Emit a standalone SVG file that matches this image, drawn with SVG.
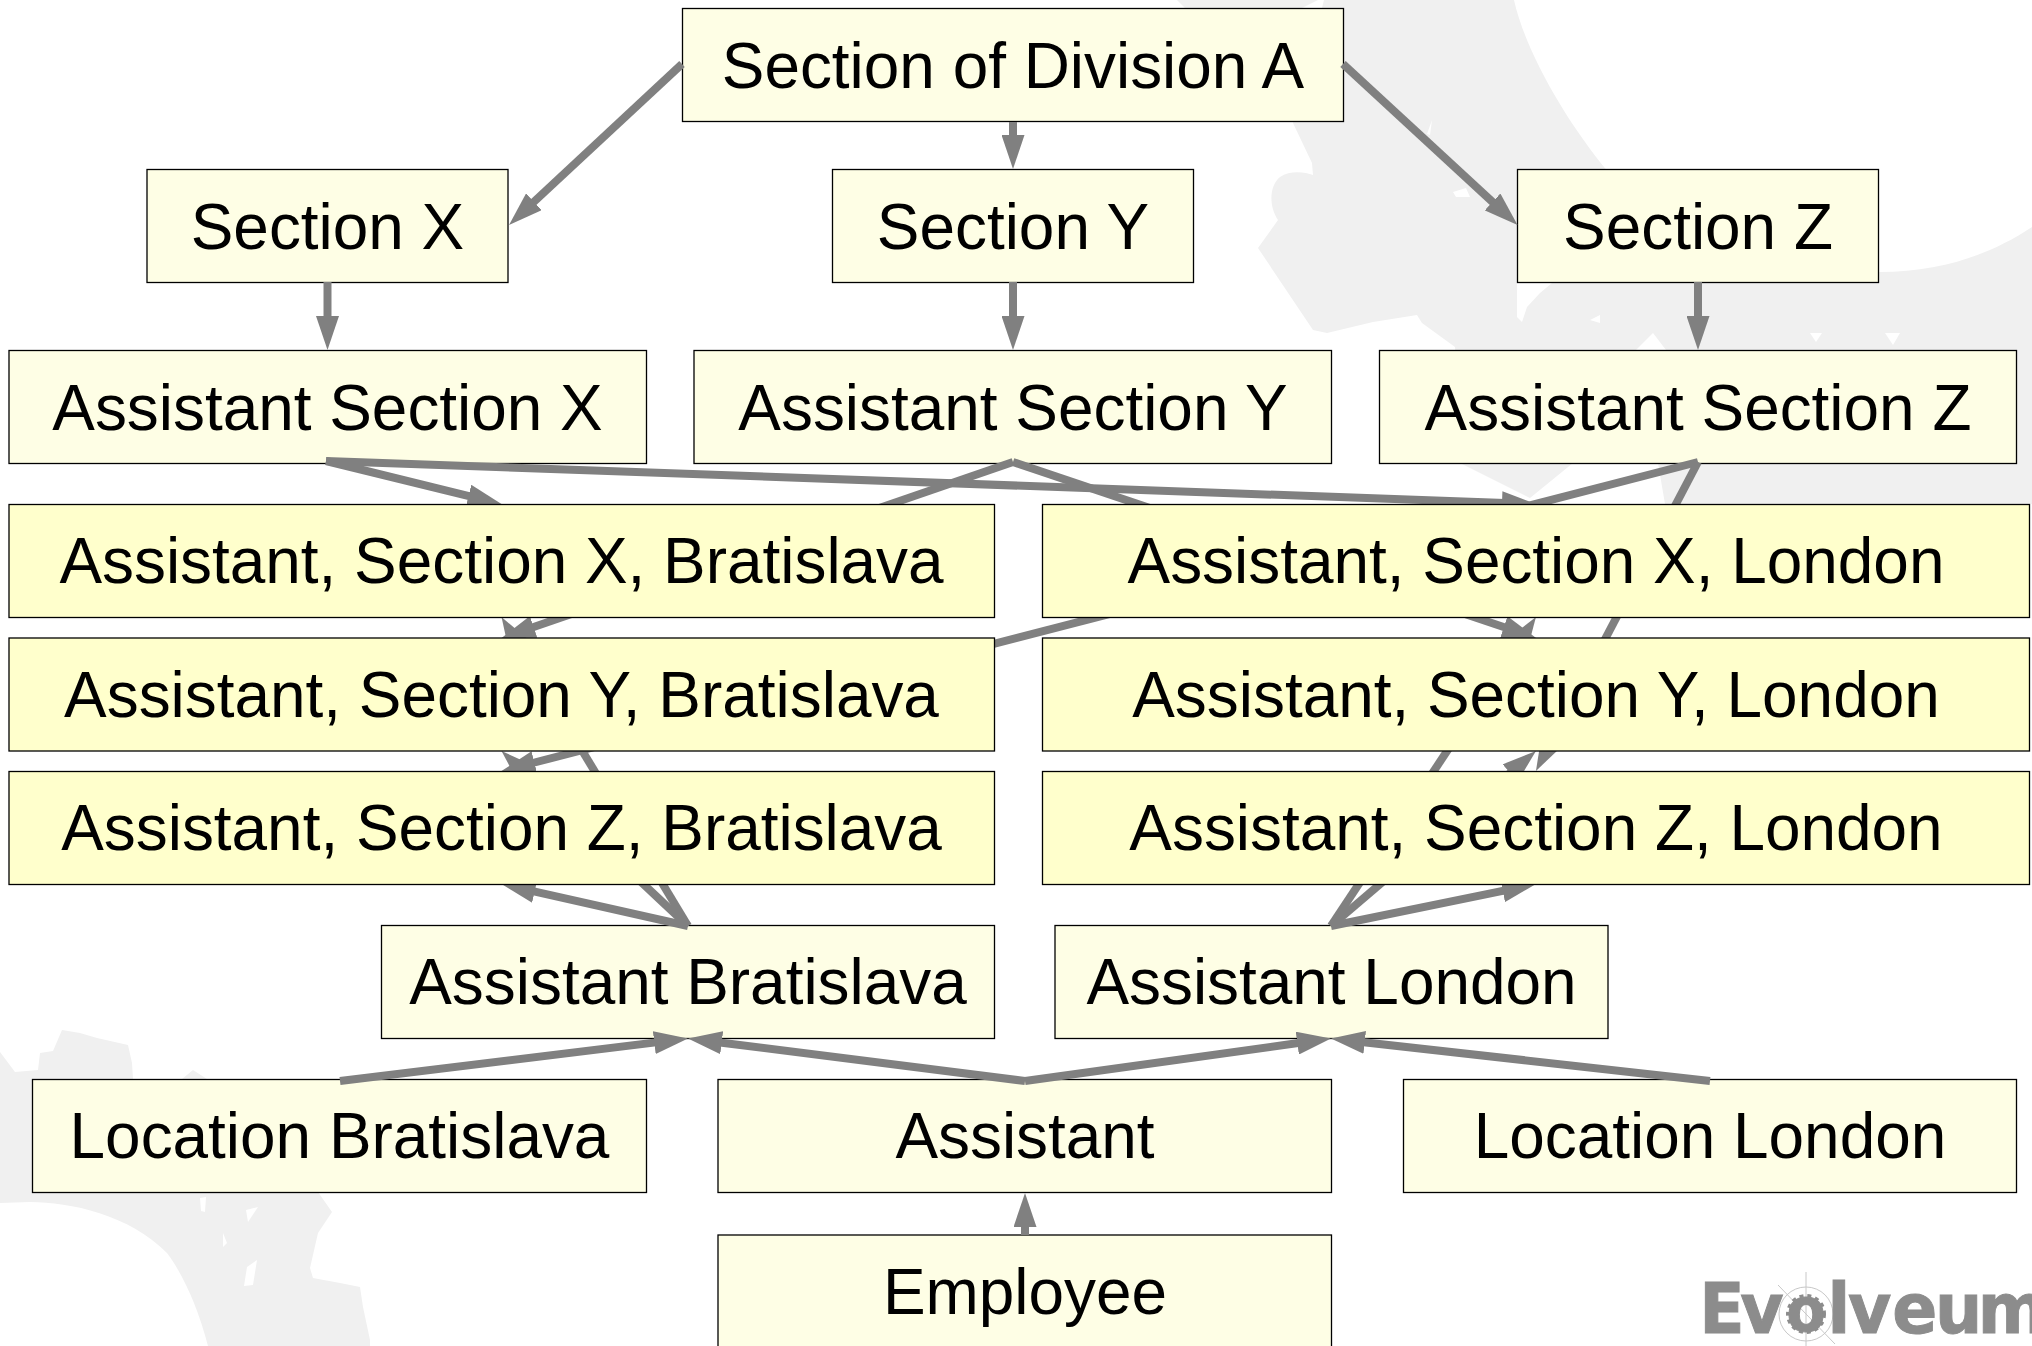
<svg xmlns="http://www.w3.org/2000/svg" width="2032" height="1346" viewBox="0 0 2032 1346">
<style>
.plain{fill:#fefee5;stroke:#000;stroke-width:1.3}
.strong{fill:#ffffcc;stroke:#000;stroke-width:1.3}
.lbl{font-family:"Liberation Sans",Arial,sans-serif;font-size:63.9px;fill:#000;text-anchor:middle}
.bg{fill:#f0f0f0}
.hole{fill:#fff}
.edge{stroke:#808080;stroke-width:8;fill:none;marker-end:url(#head)}
.logo{font-family:"DejaVu Sans",sans-serif;font-weight:700;font-size:70px;fill:#8c8c8c;stroke:#8c8c8c;stroke-width:1}
.sketch{fill:none;stroke:#c8c8c8;stroke-width:1}
</style>
<defs>
<marker id="head" markerUnits="userSpaceOnUse" markerWidth="34" markerHeight="23" refX="10" refY="11.5" orient="auto"><path d="M0 0L34 11.5L0 23z" fill="#808080"/></marker>
</defs>
<rect width="2032" height="1346" fill="#fff"/>
<g id="background">
<path class="bg" d="M1177 0L1186 9L1300 9L1318 0Z"/>
<path class="bg" d="M1324 0L1293 123L1312 163L1313 175C1305 172 1290 170 1280 177C1270 185 1268 205 1278 220L1258 248L1313 330L1327 333L1373 322L1417 315L1422 323L1455 347L1460 463L1530 498L1573 463L1658 463L1665 504L2032 504L2032 227C1990 255 1940 272 1880 272C1760 272 1650 225 1609 173C1565 120 1525 50 1514 0Z"/>
<path class="hole" d="M1517 283L1517 317L1522 322L1527 307L1540 293L1552 283ZM1653 333L1636 350L1666 350ZM1810 333L1822 333L1816 342ZM1885 333L1900 333L1893 345ZM1590 320L1600 315L1600 323ZM1453 192L1466 188L1470 197L1456 197ZM1432 120L1427 134L1430 135Z"/>
<path class="bg" d="M0 1052L15 1072L38 1070L40 1053L53 1051L62 1030L80 1033L97 1038L128 1045L132 1063L133 1079L182 1079L193 1070L207 1079L300 1192L318 1192L332 1212L318 1233L310 1268L313 1278L340 1283L360 1287L363 1307L370 1340L370 1346L208 1346C197 1303 180 1270 167 1253C130 1215 70 1202 30 1202L0 1203Z"/>
<path class="hole" d="M200 1198L206 1197L205 1212L201 1211ZM246 1210L258 1207L248 1222ZM223 1233L227 1243L223 1247ZM247 1267L257 1260L253 1285L244 1286Z"/>
</g>
<g id="logo">
<circle class="sketch" cx="1806" cy="1314" r="27"/>
<path class="sketch" d="M1806 1272V1346M1778 1285L1835 1344"/>
<text class="logo" transform="translate(1705 1333) scale(.95 1)"><tspan x="-6 37" y="0">Ev</tspan><tspan x="85.7" y="-2" font-size="60">o</tspan><tspan x="129 150.5 197 242 287" y="0">lveum</tspan></text>
<circle cx="1806" cy="1314" r="18.5" fill="none" stroke="#8c8c8c" stroke-width="3" stroke-dasharray="4 4"/>
</g>
<g id="node-section-a"><rect class="plain" x="682.5" y="8.5" width="661" height="113"/><text class="lbl" x="1013" y="87.5">Section of Division A</text></g>
<g id="node-section-x"><rect class="plain" x="147" y="169.5" width="361" height="113"/><text class="lbl" x="327.5" y="248.5">Section X</text></g>
<g id="node-section-y"><rect class="plain" x="832.5" y="169.5" width="361" height="113"/><text class="lbl" x="1013" y="248.5">Section Y</text></g>
<g id="node-section-z"><rect class="plain" x="1517.5" y="169.5" width="361" height="113"/><text class="lbl" x="1698" y="248.5">Section Z</text></g>
<g id="node-assistant-x"><rect class="plain" x="9" y="350.5" width="637.5" height="113"/><text class="lbl" x="327.5" y="429.5">Assistant Section X</text></g>
<g id="node-assistant-y"><rect class="plain" x="694" y="350.5" width="637.5" height="113"/><text class="lbl" x="1013" y="429.5">Assistant Section Y</text></g>
<g id="node-assistant-z"><rect class="plain" x="1379.5" y="350.5" width="637" height="113"/><text class="lbl" x="1698" y="429.5">Assistant Section Z</text></g>
<g id="node-assistant-bratislava"><rect class="plain" x="381.5" y="925.5" width="613" height="113"/><text class="lbl" x="688" y="1004">Assistant Bratislava</text></g>
<g id="node-assistant-london"><rect class="plain" x="1055" y="925.5" width="553" height="113"/><text class="lbl" x="1331.5" y="1004">Assistant London</text></g>
<g id="node-location-bratislava"><rect class="plain" x="32.5" y="1079.5" width="614" height="113"/><text class="lbl" x="339.5" y="1158">Location Bratislava</text></g>
<g id="node-assistant"><rect class="plain" x="718" y="1079.5" width="613.5" height="113"/><text class="lbl" x="1025" y="1158">Assistant</text></g>
<g id="node-location-london"><rect class="plain" x="1403.5" y="1079.5" width="613" height="113"/><text class="lbl" x="1710" y="1158">Location London</text></g>
<g id="node-employee"><rect class="plain" x="718" y="1235" width="613.5" height="113"/><text class="lbl" x="1025" y="1313.5">Employee</text></g>
<g id="connectors">
<line class="edge" x1="682" y1="64" x2="526.6" y2="208.6"/>
<line class="edge" x1="1013" y1="122" x2="1013" y2="145"/>
<line class="edge" x1="1343" y1="64" x2="1499.9" y2="208.7"/>
<line class="edge" x1="327.5" y1="282" x2="327.5" y2="326"/>
<line class="edge" x1="1013" y1="282" x2="1013" y2="326"/>
<line class="edge" x1="1698" y1="282" x2="1698" y2="326"/>
<line class="edge" x1="326" y1="461" x2="478.2" y2="498.3"/>
<line class="edge" x1="326" y1="461" x2="1512" y2="503.2"/>
<line class="edge" x1="1013" y1="462" x2="524.2" y2="630.2"/>
<line class="edge" x1="1013" y1="462" x2="1513.3" y2="630.3"/>
<line class="edge" x1="1698" y1="462" x2="524.7" y2="765"/>
<line class="edge" x1="1698" y1="462" x2="1547.1" y2="749.7"/>
<line class="edge" x1="688" y1="926" x2="513.9" y2="637.5"/>
<line class="edge" x1="688" y1="926" x2="519" y2="767.4"/>
<line class="edge" x1="688" y1="926" x2="524.9" y2="889.3"/>
<line class="edge" x1="1331" y1="926" x2="1522.7" y2="637"/>
<line class="edge" x1="1331" y1="926" x2="1517.7" y2="766.6"/>
<line class="edge" x1="1331" y1="926" x2="1512.5" y2="888.8"/>
<line class="edge" x1="340" y1="1081" x2="664.2" y2="1041.4"/>
<line class="edge" x1="1025" y1="1081" x2="711.8" y2="1041.5"/>
<line class="edge" x1="1025" y1="1081" x2="1307.2" y2="1041.8"/>
<line class="edge" x1="1710" y1="1081" x2="1354.8" y2="1041.2"/>
<line class="edge" x1="1025" y1="1235" x2="1025" y2="1217"/>
</g>
<g id="node-x-bratislava"><rect class="strong" x="9" y="504.5" width="985.5" height="113"/><text class="lbl" x="501.5" y="583">Assistant, Section X, Bratislava</text></g>
<g id="node-y-bratislava"><rect class="strong" x="9" y="638" width="985.5" height="113"/><text class="lbl" x="501.5" y="716.5">Assistant, Section Y, Bratislava</text></g>
<g id="node-z-bratislava"><rect class="strong" x="9" y="771.5" width="985.5" height="113"/><text class="lbl" x="501.5" y="850">Assistant, Section Z, Bratislava</text></g>
<g id="node-x-london"><rect class="strong" x="1042.5" y="504.5" width="987" height="113"/><text class="lbl" x="1536" y="583">Assistant, Section X, London</text></g>
<g id="node-y-london"><rect class="strong" x="1042.5" y="638" width="987" height="113"/><text class="lbl" x="1536" y="716.5">Assistant, Section Y, London</text></g>
<g id="node-z-london"><rect class="strong" x="1042.5" y="771.5" width="987" height="113"/><text class="lbl" x="1536" y="850">Assistant, Section Z, London</text></g>
</svg>
